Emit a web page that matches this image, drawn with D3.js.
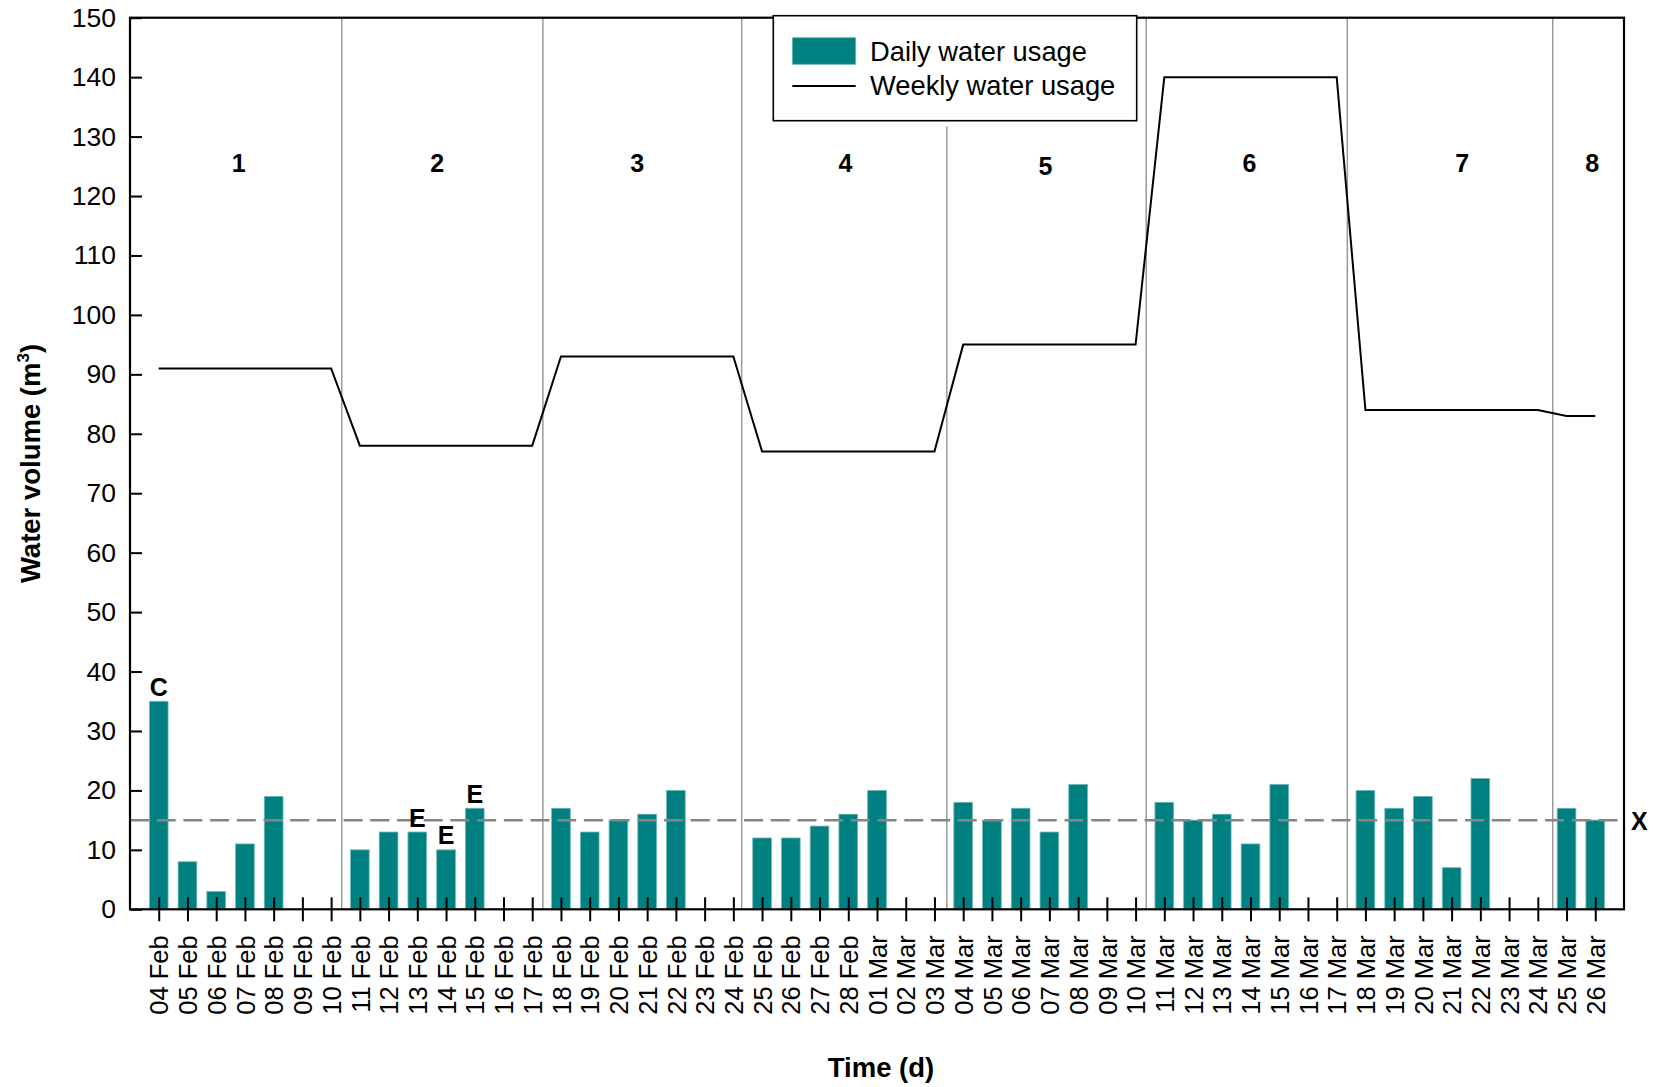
<!DOCTYPE html>
<html>
<head>
<meta charset="utf-8">
<script src="https://cdn.jsdelivr.net/npm/d3@7/dist/d3.min.js"></script>
<style>
  html, body { margin: 0; padding: 0; background: #fff; }
  svg { display: block; font-family: "Liberation Sans", Arial, sans-serif; }
</style>
</head>
<body>
<svg id="chart" width="1653" height="1087"></svg>
<script>
// ---------- data ----------
const dates = [
  "04 Feb","05 Feb","06 Feb","07 Feb","08 Feb","09 Feb","10 Feb",
  "11 Feb","12 Feb","13 Feb","14 Feb","15 Feb","16 Feb","17 Feb",
  "18 Feb","19 Feb","20 Feb","21 Feb","22 Feb","23 Feb","24 Feb",
  "25 Feb","26 Feb","27 Feb","28 Feb","01 Mar","02 Mar","03 Mar",
  "04 Mar","05 Mar","06 Mar","07 Mar","08 Mar","09 Mar","10 Mar",
  "11 Mar","12 Mar","13 Mar","14 Mar","15 Mar","16 Mar","17 Mar",
  "18 Mar","19 Mar","20 Mar","21 Mar","22 Mar","23 Mar","24 Mar",
  "25 Mar","26 Mar"
];
const dailyUsage = [
  35, 8, 3, 11, 19, null, null,
  10, 13, 13, 10, 17, null, null,
  17, 13, 15, 16, 20, null, null,
  12, 12, 14, 16, 20, null, null,
  18, 15, 17, 13, 21, null, null,
  18, 15, 16, 11, 21, null, null,
  20, 17, 19, 7, 22, null, null,
  17, 15
];
const weeklyUsage = [
  91, 91, 91, 91, 91, 91, 91,
  78, 78, 78, 78, 78, 78, 78,
  93, 93, 93, 93, 93, 93, 93,
  77, 77, 77, 77, 77, 77, 77,
  95, 95, 95, 95, 95, 95, 95,
  140, 140, 140, 140, 140, 140, 140,
  84, 84, 84, 84, 84, 84, 84,
  83, 83
];
const yTicks = [0,10,20,30,40,50,60,70,80,90,100,110,120,130,140,150];
const weekLabels = ["1","2","3","4","5","6","7","8"];
// week label positions in day-index units and y-value units
const weekLabelDay = [2.78, 9.69, 16.65, 23.90, 30.86, 37.96, 45.37, 49.89];
const weekLabelVal = [124, 124, 124, 124, 123.5, 124, 124, 124];
// week separators in day-index units, and their top values
const weekSeparatorDay = [6.37, 13.37, 20.29, 27.43, 34.37, 41.37, 48.52];
const weekSeparatorTop = [150, 150, 150, 131.7, 150, 150, 150];
const annotations = [
  { date: "04 Feb", label: "C" },
  { date: "13 Feb", label: "E" },
  { date: "14 Feb", label: "E" },
  { date: "15 Feb", label: "E" }
];
const threshold = 15;
const thresholdLabel = "X";
const seriesNames = ["Daily water usage", "Weekly water usage"];

// ---------- layout ----------
const svg = d3.select("#chart");
const L = 130, R = 1624, T = 17.7, B = 909.3;
const teal = "#008080";

const x = d3.scalePoint().domain(dates).range([L, R]).padding(1);
const step = x.step();
const xi = i => x(dates[0]) + i * step;
const y = d3.scaleLinear().domain([0, 150]).range([B, T]);
const barW = step * 0.65;

// week separators
svg.append("g").selectAll("line")
  .data(weekSeparatorDay)
  .join("line")
  .attr("x1", d => xi(d)).attr("x2", d => xi(d))
  .attr("y1", (d, i) => y(weekSeparatorTop[i])).attr("y2", y(0))
  .attr("stroke", "#9a9a9a").attr("stroke-width", 1.5);

// bars
const dailyData = dates.map((d, i) => ({ date: d, v: dailyUsage[i] })).filter(d => d.v != null);
svg.append("g").selectAll("rect")
  .data(dailyData)
  .join("rect")
  .attr("x", d => x(d.date) - barW / 2)
  .attr("width", barW)
  .attr("y", d => y(d.v))
  .attr("height", d => y(0) - y(d.v))
  .attr("fill", teal)
  .attr("stroke", "#6fb8b8")
  .attr("stroke-width", 0.8);

// threshold dashed line
svg.append("line")
  .attr("x1", L).attr("x2", R)
  .attr("y1", y(threshold)).attr("y2", y(threshold))
  .attr("stroke", "#858585").attr("stroke-width", 2.5)
  .attr("stroke-dasharray", "19,7.7");
svg.append("text")
  .attr("x", R + 7).attr("y", y(threshold) + 9.5)
  .attr("font-size", 25).attr("font-weight", "bold")
  .text(thresholdLabel);

// weekly line
const line = d3.line().x((d, i) => x(dates[i])).y(d => y(d));
svg.append("path")
  .datum(weeklyUsage)
  .attr("d", line)
  .attr("fill", "none").attr("stroke", "#000").attr("stroke-width", 2);

// annotations
const dailyMap = new Map(dates.map((d, i) => [d, dailyUsage[i]]));
svg.append("g").selectAll("text")
  .data(annotations)
  .join("text")
  .attr("x", d => x(d.date))
  .attr("y", d => y(dailyMap.get(d.date)) - 5.5)
  .attr("text-anchor", "middle")
  .attr("font-size", 25).attr("font-weight", "bold")
  .text(d => d.label);

// week labels
svg.append("g").selectAll("text")
  .data(weekLabels)
  .join("text")
  .attr("x", (d, i) => xi(weekLabelDay[i]))
  .attr("y", (d, i) => y(weekLabelVal[i]))
  .attr("text-anchor", "middle")
  .attr("font-size", 25).attr("font-weight", "bold")
  .text(d => d);

// y axis
const yAxis = svg.append("g")
  .attr("transform", `translate(${L},0)`)
  .call(d3.axisLeft(y).tickValues(yTicks).tickSizeInner(-12).tickSizeOuter(0).tickPadding(14));
yAxis.select(".domain").remove();
yAxis.selectAll(".tick line").attr("stroke", "#000").attr("stroke-width", 2);
yAxis.selectAll(".tick text")
  .attr("x", -14)
  .attr("font-size", 26.5).attr("font-family", "Liberation Sans, Arial, sans-serif")
  .attr("fill", "#000");

// x axis
const xAxis = svg.append("g")
  .attr("transform", `translate(0,${B})`)
  .call(d3.axisBottom(x).tickSize(12).tickSizeOuter(0));
xAxis.select(".domain").remove();
xAxis.selectAll(".tick line").attr("y1", -12).attr("y2", 12).attr("stroke", "#000").attr("stroke-width", 2);
xAxis.selectAll(".tick text")
  .attr("transform", "rotate(-90)")
  .attr("text-anchor", "end")
  .attr("x", -26).attr("y", 0).attr("dy", "0.36em")
  .attr("font-size", 25.5).attr("font-family", "Liberation Sans, Arial, sans-serif")
  .attr("fill", "#000");

// plot frame
svg.append("rect")
  .attr("x", L).attr("y", T).attr("width", R - L).attr("height", B - T)
  .attr("fill", "none").attr("stroke", "#000").attr("stroke-width", 2.2);

// legend
const lg = svg.append("g");
lg.append("rect").attr("x", 773.3).attr("y", 15.7).attr("width", 363.4).attr("height", 105)
  .attr("fill", "#fff").attr("stroke", "#000").attr("stroke-width", 1.6);
lg.append("rect").attr("x", 792.3).attr("y", 37.7).attr("width", 63.4).attr("height", 26.6)
  .attr("fill", teal).attr("stroke", "#6fb8b8").attr("stroke-width", 0.8);
lg.append("line").attr("x1", 792.3).attr("x2", 855.7).attr("y1", 86).attr("y2", 86)
  .attr("stroke", "#000").attr("stroke-width", 1.8);
lg.append("text").attr("x", 870).attr("y", 61).attr("font-size", 27.3).text(seriesNames[0]);
lg.append("text").attr("x", 870).attr("y", 94.5).attr("font-size", 27.3).text(seriesNames[1]);

// axis titles
svg.append("text")
  .attr("x", (L + R) / 2 + 4).attr("y", 1077)
  .attr("text-anchor", "middle")
  .attr("font-size", 27.5).attr("font-weight", "bold")
  .text("Time (d)");
const yt = svg.append("text")
  .attr("transform", `translate(40,${(T + B) / 2}) rotate(-90)`)
  .attr("text-anchor", "middle")
  .attr("font-size", 27.5).attr("font-weight", "bold");
yt.append("tspan").text("Water volume (m");
yt.append("tspan").attr("font-size", 17).attr("dy", -11).text("3");
yt.append("tspan").attr("dy", 11).text(")");
</script>
</body>
</html>
